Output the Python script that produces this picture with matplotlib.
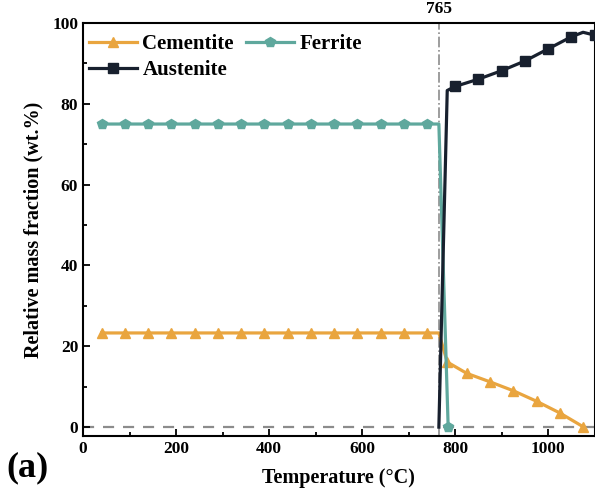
import numpy as np
import matplotlib.pyplot as plt
from matplotlib.ticker import MultipleLocator

plt.rcParams['font.family'] = ['Liberation Serif', 'DejaVu Serif']
plt.rcParams['font.weight'] = 'bold'

# flat region (markers every 50 degC)
t_low = list(range(40, 741, 50))

cem_t = t_low + [765, 783, 825, 875, 925, 975, 1025, 1075]
cem_v = [23.3] * len(t_low) + [23.3, 16.1, 13.3, 11.2, 9.0, 6.4, 3.5, 0.1]
cem_mark = list(range(len(t_low))) + list(range(len(t_low) + 1, len(cem_t)))

fer_t = t_low + [765, 785]
fer_v = [75.0] * len(t_low) + [75.0, 0.0]
fer_mark = list(range(len(t_low))) + [len(fer_t) - 1]

aus_t = [765, 783, 800, 850, 900, 950, 1000, 1050, 1075, 1100]
aus_v = [0.0, 83.3, 84.3, 86.1, 88.2, 90.6, 93.6, 96.6, 97.7, 97.0]
aus_mark = [2, 3, 4, 5, 6, 7, 9]

c_cem = '#E9A53F'
c_fer = '#5FA89D'
c_aus = '#18202E'

fig = plt.figure(figsize=(5.95, 5.0), dpi=100)
ax = fig.add_axes([0.1395, 0.128, 0.860, 0.826])

ax.axhline(0, color='#8c8c8c', ls=(0, (5, 4)), lw=1.6, zorder=1)
ax.axvline(765, color='#8c8c8c', ls='-.', lw=1.2, zorder=1)

l1, = ax.plot(cem_t, cem_v, color=c_cem, lw=2.3, marker='^', ms=7, markevery=cem_mark,
              label='Cementite', zorder=3)
l2, = ax.plot(fer_t, fer_v, color=c_fer, lw=2.3, marker='p', ms=7.5, markevery=fer_mark,
              label='Ferrite', zorder=3)
l3, = ax.plot(aus_t, aus_v, color=c_aus, lw=2.3, marker='s', ms=6.5, markevery=aus_mark,
              label='Austenite', zorder=4)

ax.set_xlim(0, 1100)
ax.set_ylim(-2.2, 100)
ax.xaxis.set_major_locator(MultipleLocator(200))
ax.xaxis.set_minor_locator(MultipleLocator(100))
ax.yaxis.set_major_locator(MultipleLocator(20))
ax.yaxis.set_minor_locator(MultipleLocator(10))
ax.tick_params(which='both', direction='in', labelsize=12.5, width=1.3)
ax.tick_params(which='major', length=5)
ax.tick_params(which='minor', length=3)
for s in ax.spines.values():
    s.set_linewidth(1.5)

ax.set_xlabel('Temperature (\u00b0C)', fontsize=14.5, fontweight='bold', labelpad=8)
ax.set_ylabel('Relative mass fraction (wt.%)', fontsize=14.5, fontweight='bold', labelpad=6)

ax.text(765, 101.5, '765', ha='center', va='bottom', fontsize=12.5, fontweight='bold')

# column-wise fill: row 1 = Cementite, Ferrite; row 2 = Austenite
ax.legend([l1, l3, l2], ['Cementite', 'Austenite', 'Ferrite'],
          loc='upper left', ncol=2, frameon=False, fontsize=15,
          handlelength=2.3, handletextpad=0.25, columnspacing=0.6,
          labelspacing=0.3, borderaxespad=0.0, borderpad=0.3,
          bbox_to_anchor=(0.0, 0.988))

fig.text(0.01, 0.065, '(a)', fontsize=26, fontweight='bold', ha='left', va='center')

fig.savefig('out.png', dpi=100)
